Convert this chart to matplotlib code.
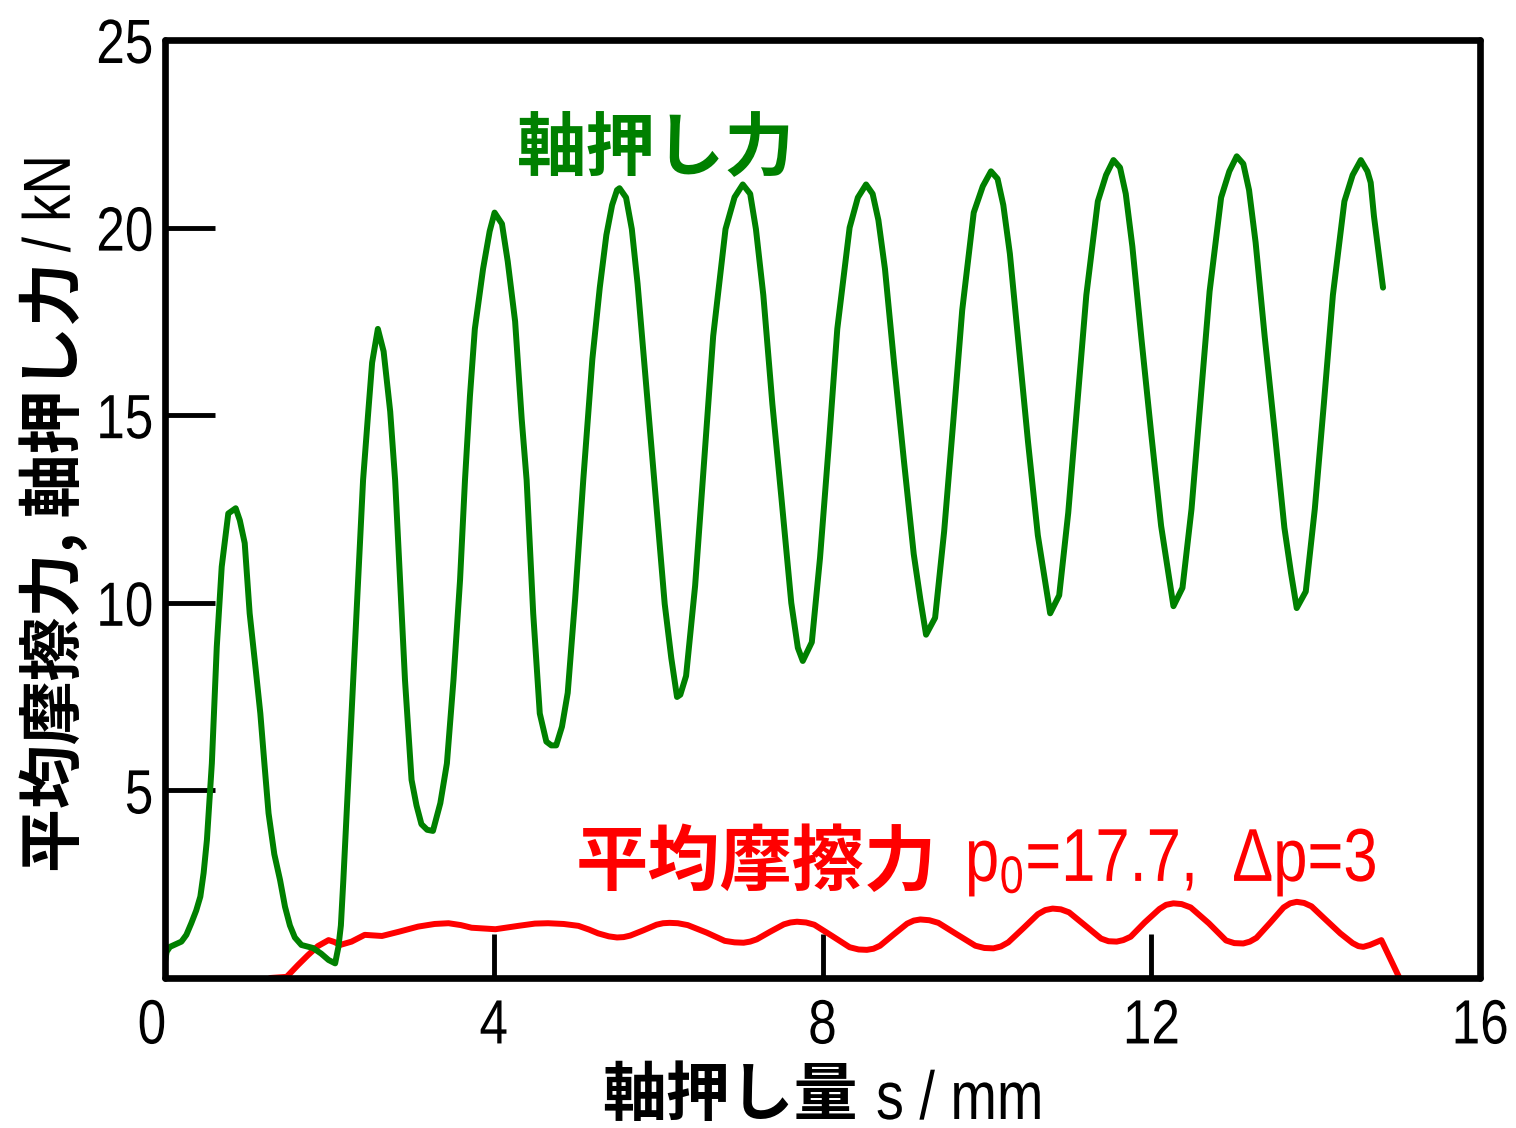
import matplotlib
matplotlib.use("Agg")
import matplotlib.pyplot as plt
from matplotlib.patheffects import AbstractPathEffect
from matplotlib.transforms import Affine2D, ScaledTranslation

# 軸押し力 (green): push stroke s [mm] vs force [kN]
push_s = [
    0.00, 0.02, 0.06, 0.13, 0.20, 0.26, 0.32, 0.38, 0.43, 0.47, 0.51, 0.57, 0.63, 0.69,
    0.77, 0.86, 0.91, 0.97, 1.03, 1.10, 1.16, 1.21, 1.26, 1.33, 1.40, 1.46, 1.52, 1.58,
    1.66, 1.80, 1.90, 1.99, 2.07, 2.11, 2.14, 2.17, 2.23, 2.29, 2.35, 2.41, 2.47, 2.52,
    2.59, 2.66, 2.74, 2.80, 2.86, 2.92, 3.00, 3.06, 3.12, 3.19, 3.26, 3.35, 3.43, 3.51,
    3.59, 3.65, 3.71, 3.77, 3.87, 3.95, 4.01, 4.10, 4.17, 4.26, 4.34, 4.40, 4.48, 4.56,
    4.64, 4.70, 4.76, 4.83, 4.90, 4.99, 5.09, 5.20, 5.29, 5.37, 5.44, 5.50, 5.53, 5.61,
    5.68, 5.75, 5.86, 5.97, 6.08, 6.16, 6.23, 6.27, 6.34, 6.45, 6.56, 6.67, 6.82, 6.93,
    7.03, 7.12, 7.19, 7.28, 7.39, 7.50, 7.62, 7.70, 7.76, 7.87, 7.97, 8.08, 8.18, 8.33,
    8.43, 8.53, 8.61, 8.68, 8.76, 8.87, 8.99, 9.11, 9.19, 9.26, 9.37, 9.48, 9.59, 9.70,
    9.84, 9.95, 10.05, 10.13, 10.20, 10.28, 10.39, 10.50, 10.62, 10.70, 10.77, 10.88,
    10.99, 11.10, 11.21, 11.35, 11.45, 11.54, 11.62, 11.69, 11.77, 11.88, 12.00, 12.12,
    12.20, 12.27, 12.38, 12.49, 12.60, 12.71, 12.85, 12.95, 13.04, 13.12, 13.19, 13.27,
    13.38, 13.50, 13.62, 13.70, 13.77, 13.88, 13.99, 14.10, 14.21, 14.35, 14.45, 14.55,
    14.63, 14.67, 14.71, 14.82,
]
push_force = [
    0.43, 0.70, 0.83, 0.90, 0.97, 1.15, 1.46, 1.80, 2.17, 2.80, 3.68, 5.72, 8.83, 10.96,
    12.38, 12.52, 12.20, 11.59, 9.72, 8.30, 7.05, 5.70, 4.39, 3.30, 2.61, 1.90, 1.40, 1.08,
    0.88, 0.80, 0.65, 0.48, 0.39, 0.83, 1.40, 2.61, 5.28, 7.94, 10.61, 13.27, 15.00, 16.40,
    17.30, 16.70, 15.10, 13.27, 10.61, 7.94, 5.28, 4.60, 4.10, 3.95, 3.92, 4.66, 5.72, 7.94,
    10.61, 13.27, 15.50, 17.30, 18.90, 19.90, 20.40, 20.10, 19.10, 17.50, 14.90, 13.27, 9.72, 7.05,
    6.30, 6.20, 6.20, 6.70, 7.60, 10.10, 13.30, 16.50, 18.40, 19.80, 20.60, 21.00, 21.05, 20.80,
    19.96, 18.50, 15.67, 12.82, 9.97, 8.53, 7.49, 7.55, 8.05, 10.45, 13.78, 17.11, 19.96, 20.81,
    21.15, 20.90, 19.96, 18.20, 15.30, 12.80, 10.00, 8.80, 8.45, 8.95, 11.20, 14.30, 17.30, 20.00,
    20.80, 21.15, 20.90, 20.20, 18.90, 16.40, 13.80, 11.30, 10.10, 9.15, 9.60, 11.90, 14.80, 17.80,
    20.40, 21.10, 21.50, 21.30, 20.60, 19.30, 16.80, 14.30, 11.80, 10.70, 9.72, 10.20,
    12.40, 15.30, 18.20, 20.70, 21.40, 21.80, 21.60, 20.90, 19.50, 17.05, 14.50, 12.05,
    10.90, 9.91, 10.40, 12.50, 15.40, 18.30, 20.80, 21.50, 21.90, 21.70, 21.00, 19.60,
    17.10, 14.60, 12.00, 10.80, 9.86, 10.30, 12.50, 15.30, 18.20, 20.70, 21.40, 21.80,
    21.50, 21.20, 20.30, 18.40,
]

# 平均摩擦力 (red): mean friction force [kN], p0=17.7, dp=3
fric_s = [
    1.28, 1.48, 1.62, 1.74, 1.86, 1.99, 2.06, 2.13, 2.27, 2.43, 2.64, 2.84, 3.08, 3.28,
    3.45, 3.60, 3.73, 4.02, 4.30, 4.50, 4.66, 4.85, 5.03, 5.16, 5.27, 5.40, 5.50, 5.58,
    5.66, 5.82, 5.98, 6.06, 6.14, 6.24, 6.36, 6.59, 6.81, 6.93, 7.04, 7.12, 7.20, 7.36,
    7.53, 7.61, 7.69, 7.80, 7.90, 8.11, 8.33, 8.44, 8.54, 8.62, 8.70, 8.86, 9.03, 9.11,
    9.19, 9.30, 9.41, 9.63, 9.86, 9.97, 10.08, 10.17, 10.26, 10.44, 10.62, 10.71, 10.80,
    10.90, 11.00, 11.19, 11.39, 11.48, 11.58, 11.66, 11.75, 11.92, 12.10, 12.18, 12.27,
    12.37, 12.48, 12.70, 12.91, 13.01, 13.12, 13.20, 13.28, 13.45, 13.61, 13.69, 13.77,
    13.86, 13.95, 14.10, 14.30, 14.45, 14.52, 14.58, 14.66, 14.80, 15.02,
]
fric_force = [
    0.00, 0.03, 0.35, 0.61, 0.85, 1.01, 0.96, 0.88, 0.97, 1.15, 1.12, 1.23, 1.37, 1.44,
    1.46, 1.41, 1.34, 1.30, 1.39, 1.45, 1.46, 1.44, 1.39, 1.29, 1.19, 1.11, 1.08, 1.09,
    1.13, 1.27, 1.42, 1.46, 1.47, 1.46, 1.41, 1.21, 0.99, 0.95, 0.94, 0.97, 1.03, 1.23,
    1.43, 1.48, 1.50, 1.48, 1.42, 1.13, 0.82, 0.76, 0.75, 0.78, 0.86, 1.15, 1.45, 1.53,
    1.56, 1.54, 1.47, 1.17, 0.86, 0.80, 0.79, 0.84, 0.95, 1.32, 1.70, 1.81, 1.85,
    1.83, 1.75, 1.41, 1.05, 0.98, 0.97, 1.01, 1.10, 1.48, 1.84, 1.95, 1.99,
    1.97, 1.88, 1.46, 1.00, 0.93, 0.92, 0.97, 1.07, 1.48, 1.88, 1.99, 2.03,
    2.00, 1.91, 1.60, 1.19, 0.93, 0.85, 0.83, 0.88, 1.01, 0.00,
]

x_ticks = [0, 4, 8, 12, 16]
y_ticks = [0, 5, 10, 15, 20, 25]
y_tick_labels = ["", "5", "10", "15", "20", "25"]

SANS = ["Liberation Sans", "DejaVu Sans"]
CJK = ["Noto Sans CJK JP", "DejaVu Sans"]
GREEN = "#008000"
RED = "#ff0000"


class Squeeze(AbstractPathEffect):
    """Narrow the glyphs horizontally (no condensed face is installed)."""

    def __init__(self, sx=0.82, anchor="left"):
        super().__init__()
        self.sx = sx
        self.anchor = anchor

    def draw_path(self, renderer, gc, tpath, affine, rgbFace=None):
        ext = tpath.get_extents()
        if self.anchor == "right":
            x0 = ext.x1
        elif self.anchor == "center":
            x0 = 0.5 * (ext.x0 + ext.x1)
        else:
            x0 = 0.0
        squeeze = Affine2D().translate(-x0, 0).scale(self.sx, 1).translate(x0, 0)
        renderer.draw_path(gc, tpath, squeeze + affine, rgbFace)


plt.rcParams["font.family"] = SANS
plt.rcParams["mathtext.fontset"] = "custom"
plt.rcParams["mathtext.rm"] = "Liberation Sans"

W, H = 1516, 1128
fig = plt.figure(figsize=(W / 100, H / 100), dpi=100)
ax = fig.add_axes([165 / W, 1 - 978 / H, (1480 - 165) / W, (978 - 40) / H])

ax.plot(fric_s, fric_force, color=RED, lw=4.3, solid_capstyle="round", solid_joinstyle="round")
ax.plot(push_s, push_force, color=GREEN, lw=4.3, solid_capstyle="round", solid_joinstyle="round")

ax.set_xlim(0, 16)
ax.set_ylim(0, 25)
ax.set_xticks(x_ticks)
ax.set_yticks(y_ticks)
ax.set_yticklabels(y_tick_labels)
for side in ax.spines.values():
    side.set_linewidth(4.8)
    side.set_capstyle("round")
ax.tick_params(axis="both", direction="in", width=3.5, labelsize=45, top=False, right=False)
ax.tick_params(axis="y", length=36, pad=8)
ax.tick_params(axis="x", length=32, pad=14)
for lbl in ax.get_xticklabels():
    lbl.set_path_effects([Squeeze(0.82, "center")])
for lbl in ax.get_yticklabels():
    lbl.set_path_effects([Squeeze(0.82, "right")])
# the "0" sits a little left of the corner in the original
zero_lbl = ax.get_xticklabels()[0]
zero_lbl.set_transform(zero_lbl.get_transform() + ScaledTranslation(-0.13, 0, fig.dpi_scale_trans))

# series labels inside the plot
ax.text(4.28, 22.1, "軸押し力", family=CJK, weight="bold", fontsize=50,
        color=GREEN, ha="left", va="center")
fric_lbl = ax.text(5.0, 3.05, "平均摩擦力", family=CJK, weight="bold", fontsize=52,
                   color=RED, ha="left", va="center")
ax.annotate("p$\\mathregular{_0}$=17.7,  Δp=3", xy=(1, 0), xycoords=fric_lbl,
            xytext=(20, 2), textcoords="offset points", fontsize=54, color=RED,
            ha="left", va="bottom", path_effects=[Squeeze(0.82, "left")])

# axis titles: bold CJK part + regular unit part
fig.text(858 / W, 1 - 1096 / H, "軸押し量", family=CJK, weight="bold",
         fontsize=46, ha="right", va="center")
fig.text(876 / W, 1 - 1119 / H, "s / mm", fontsize=49, ha="left", va="baseline",
         path_effects=[Squeeze(0.82, "left")])

yl = fig.text(88 / W, 1 - 872 / H, "平均摩擦力, 軸押し力", family=CJK, weight="bold",
              fontsize=46, rotation=90, ha="right", va="bottom")
ax.annotate(" / kN", xy=(1, 1), xycoords=yl, xytext=(-3, -4), textcoords="offset points",
            fontsize=48, rotation=90, ha="right", va="bottom",
            path_effects=[Squeeze(0.82, "left")])

fig.savefig("out.png", dpi=100)
